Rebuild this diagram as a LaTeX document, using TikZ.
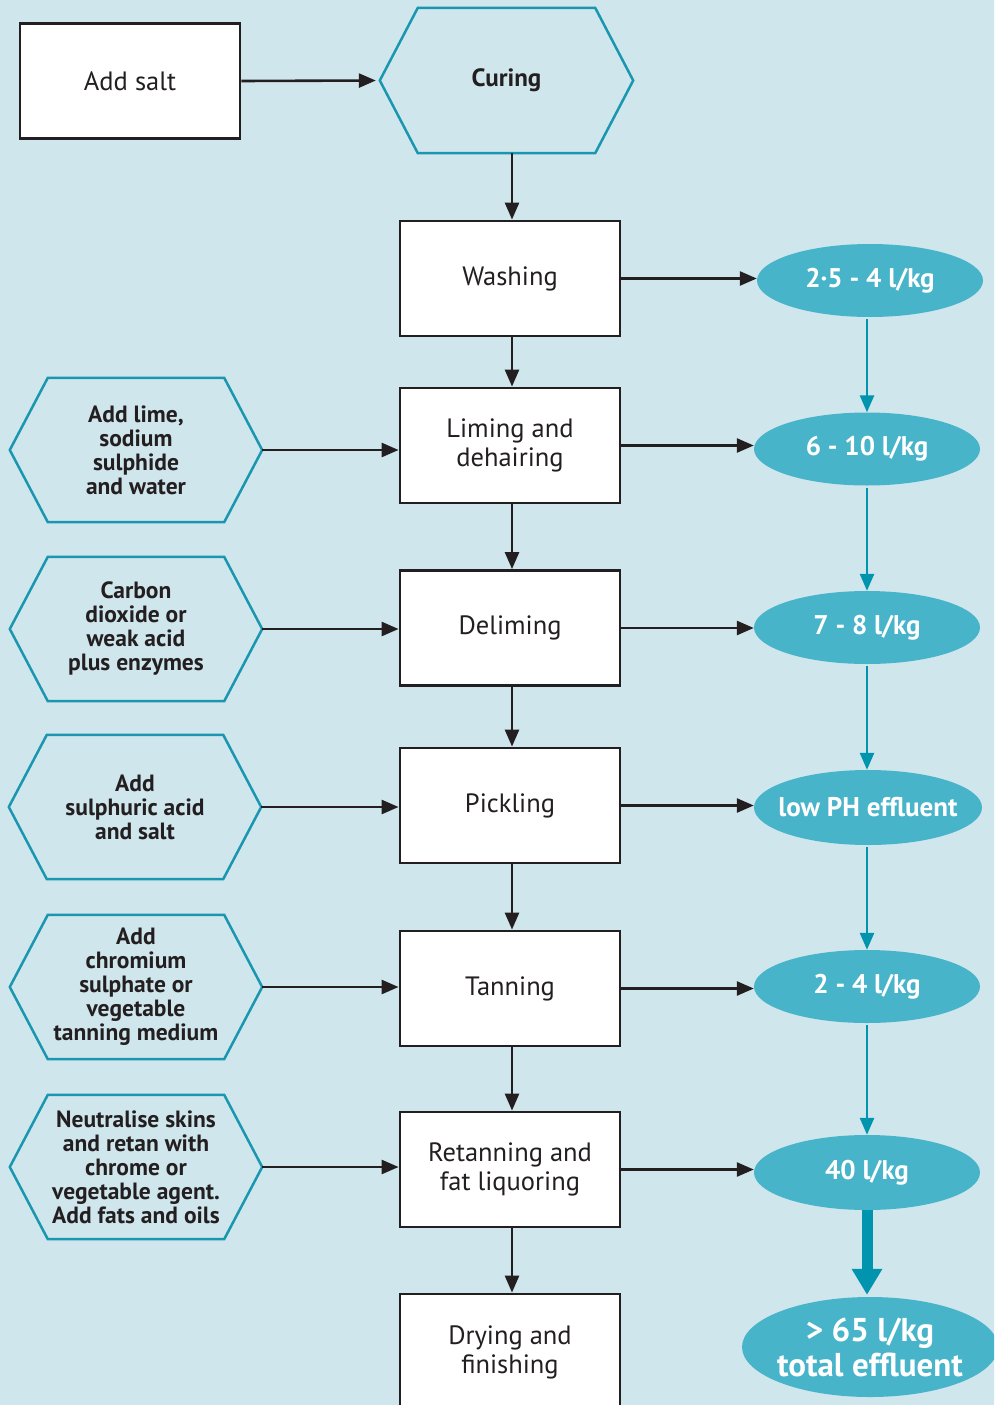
\documentclass[tikz,border=0pt]{standalone}
\usepackage{fontspec}
\setmainfont{PT Sans}
\usetikzlibrary{arrows.meta,shapes.geometric}
\definecolor{bgc}{HTML}{CFE6EC}
\definecolor{hexc}{HTML}{1A96B0}
\definecolor{ellc}{HTML}{48B4CA}
\definecolor{tealarr}{HTML}{0094AE}
\definecolor{ink}{HTML}{231F20}
\tikzset{
  procbox/.style={draw=ink, line width=2.8pt, fill=white, minimum width=220pt, minimum height=115pt, inner sep=0pt, align=center, font=\fontsize{26.5}{29}\selectfont, text=ink},
  hexbox/.style={minimum width=252pt, minimum height=144pt, inner sep=0pt, align=center, font=\bfseries\fontsize{23.5}{24}\selectfont, text=ink},
  hexline/.style={draw=hexc, line width=2.5pt, line join=miter},
  effl/.style={ellipse, fill=ellc, minimum width=226pt, minimum height=73pt, inner sep=0pt},
  effltext/.style={align=center, text=white, font=\bfseries\fontsize{27}{30}\selectfont, inner sep=0pt},
  arr/.style={draw=ink, line width=2.6pt, -{Triangle[length=17pt,width=14pt]}},
  tarr/.style={draw=tealarr, line width=2.6pt, -{Triangle[length=17pt,width=14pt]}},
}
\newcommand{\hexdraw}[2]{%
  \draw[hexline] ([xshift=#2]#1.north west) -- ([xshift=-#2]#1.north east) -- (#1.east) -- ([xshift=-#2]#1.south east) -- ([xshift=#2]#1.south west) -- (#1.west) -- cycle;}
\begin{document}
\begin{tikzpicture}[x=1pt,y=-1pt]
\useasboundingbox (0,0) rectangle (994,1405);
\clip (0,0) rectangle (994,1405);
\fill[bgc] (-5,-5) rectangle (1000,1410);

% top row
\node[procbox] (salt) at (130,81) {Add salt};
\node[hexbox, minimum width=253pt, minimum height=145pt, font=\bfseries\fontsize{25}{28}\selectfont] (cur) at (506.5,80.5) {Curing};
\hexdraw{cur}{38pt}

% process column
\node[procbox] (wash) at (510,278.5) {Washing};
\node[procbox] (lime) at (510,445.5) {Liming and\\dehairing};
\node[procbox] (delim) at (510,628) {Deliming};
\node[procbox] (pick) at (510,805.5) {Pickling};
\node[procbox] (tan) at (510,988.5) {Tanning};
\node[procbox] (retan) at (510,1169.5) {Retanning and\\fat liquoring};
\node[procbox, minimum height=140pt] (dry) at (510,1364) {};
\node[font=\fontsize{26.5}{29}\selectfont, text=ink, align=center] (drytxt) at (510,1352) {Drying and\\finishing};

% left hexagons
\node[hexbox] (h1) at (136,450) {Add lime,\\sodium\\sulphide\\and water};
\node[hexbox] (h2) at (136,629) {Carbon\\dioxide or\\weak acid\\plus enzymes};
\node[hexbox] (h3) at (135,807) {Add\\sulphuric acid\\and salt};
\node[hexbox] (h4) at (136,987) {Add\\chromium\\sulphate or\\vegetable\\tanning medium};
\node[hexbox] (h5) at (136,1167) {Neutralise skins\\and retan with\\chrome or\\vegetable agent.\\Add fats and oils};
\foreach \h in {h1,h2,h3,h4,h5}{\hexdraw{\h}{38pt}}

% effluent ellipses
\node[effl, label={[effltext]center:2·5 - 4 l/kg}] (e1) at (870,280.5) {};
\node[effl, label={[effltext]center:6 - 10 l/kg}] (e2) at (867,449) {};
\node[effl, label={[effltext]center:7 - 8 l/kg}] (e3) at (867,627.5) {};
\node[effl, minimum width=228pt, minimum height=75pt, label={[effltext]center:low PH effluent}] (e4) at (868,807.5) {};
\node[effl, label={[effltext]center:2 - 4 l/kg}] (e5) at (867,986.5) {};
\node[effl, minimum height=75pt, label={[effltext]center:40 l/kg}] (e6) at (867,1172.5) {};
\node[effl, minimum width=256pt, minimum height=100pt, label={[effltext, font=\bfseries\fontsize{33}{35}\selectfont]center:{> 65 l/kg\\total effluent}}] (e7) at (870,1347) {};

% column guide coordinates
\coordinate (colx) at (512,0);
\coordinate (ecol) at (867,0);

% arrows
\draw[arr] (salt.east) -- ([xshift=-4pt]cur.west);
\draw[arr] (cur.south -| colx) -- (wash.north -| colx);
\draw[arr] (wash.south -| colx) -- (lime.north -| colx);
\draw[arr] (lime.south -| colx) -- (delim.north -| colx);
\draw[arr] (delim.south -| colx) -- (pick.north -| colx);
\draw[arr] (pick.south -| colx) -- (tan.north -| colx);
\draw[arr] (tan.south -| colx) -- (retan.north -| colx);
\draw[arr] (retan.south -| colx) -- (dry.north -| colx);

\draw[arr] (h1.east) -- (lime.west |- h1.east);
\draw[arr] (h2.east) -- (delim.west |- h2.east);
\draw[arr] (h3.east) -- (pick.west |- h3.east);
\draw[arr] (h4.east) -- (tan.west |- h4.east);
\draw[arr] (h5.east) -- (retan.west |- h5.east);

\draw[arr] (wash.east) -- (wash.east -| e1.west);
\draw[arr] (lime.east) -- (lime.east -| e2.west);
\draw[arr] (delim.east) -- (delim.east -| e3.west);
\draw[arr] (pick.east) -- (pick.east -| e4.west);
\draw[arr] (tan.east) -- (tan.east -| e5.west);
\draw[arr] (retan.east) -- (retan.east -| e6.west);

\draw[tarr] ([yshift=-2pt]e1.south -| ecol) -- (e2.north -| ecol);
\draw[tarr] ([yshift=-2pt]e2.south -| ecol) -- (e3.north -| ecol);
\draw[tarr] ([yshift=-2pt]e3.south -| ecol) -- (e4.north -| ecol);
\draw[tarr] ([yshift=-2pt]e4.south -| ecol) -- (e5.north -| ecol);
\draw[tarr] ([yshift=-2pt]e5.south -| ecol) -- (e6.north -| ecol);
\draw[draw=tealarr, line width=11pt, -{Triangle[length=26pt,width=29pt]}] (e6.south -| ecol) -- ([yshift=2pt]e7.north -| ecol);
\end{tikzpicture}
\end{document}
